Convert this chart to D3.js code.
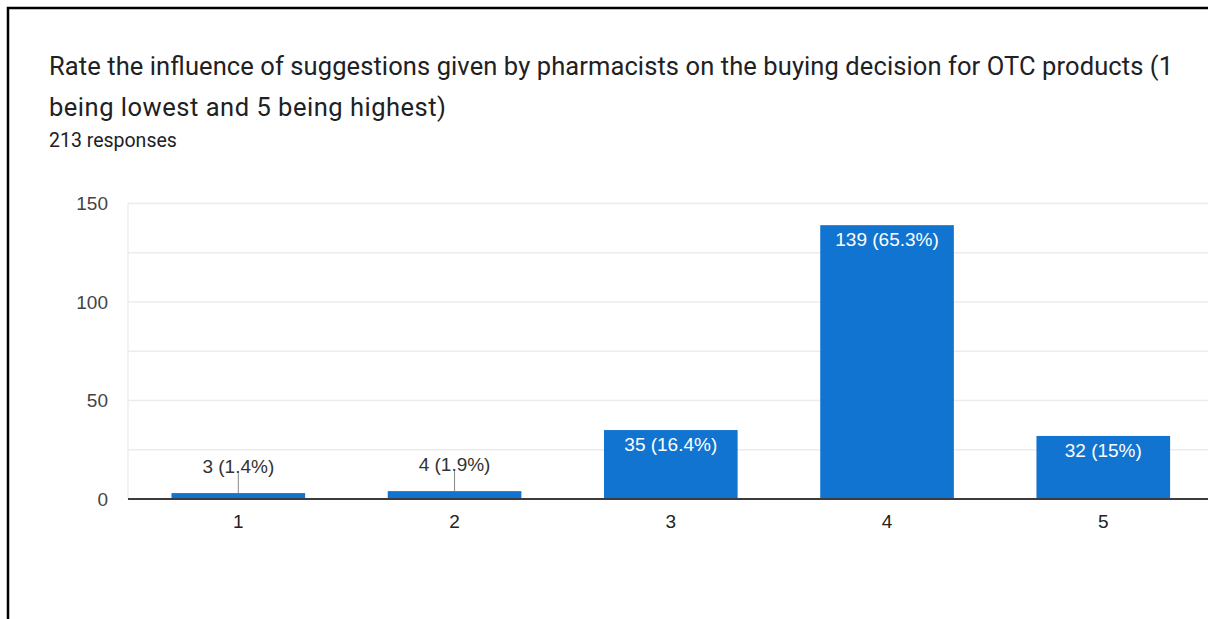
<!DOCTYPE html>
<html>
<head>
<meta charset="utf-8">
<script src="https://cdn.jsdelivr.net/npm/d3@7"></script>
<style>
  html, body { margin: 0; padding: 0; background: #fff; }
  svg { display: block; }
</style>
</head>
<body>
<svg id="chart" width="1208" height="619"></svg>
<script>
// Survey question and answers
const titleLines = [
  "Rate the influence of suggestions given by pharmacists on the buying decision for OTC products (1",
  "being lowest and 5 being highest)"
];
const titleWidths = [1124, 397];
const responseCount = 213;
const ratings = ["1", "2", "3", "4", "5"];
const counts = [3, 4, 35, 139, 32];
const yTicks = [0, 50, 100, 150];
const yGrid = [0, 25, 50, 75, 100, 125, 150];

const W = 1208, H = 619;
const svg = d3.select("#chart");

// Frame lines along the top and left edges
svg.append("path")
  .attr("d", `M8,${H} V8 H${W}`)
  .attr("fill", "none")
  .attr("stroke", "#000")
  .attr("stroke-width", 2.5);

// Heading
const head = svg.append("g").attr("font-family", "Roboto, 'Noto Sans', sans-serif");
head.selectAll("text.title")
  .data(titleLines)
  .join("text")
  .attr("class", "title")
  .attr("x", 49)
  .attr("y", (d, i) => 74.5 + i * 41.5)
  .attr("font-size", 25.5)
  .attr("fill", "#202124")
  .attr("textLength", (d, i) => titleWidths[i])
  .attr("lengthAdjust", "spacing")
  .text(d => d);
head.append("text")
  .attr("x", 49)
  .attr("y", 146.5)
  .attr("font-size", 19.5)
  .attr("fill", "#202124")
  .text(`${responseCount} responses`);

// Scales
const x = d3.scaleBand()
  .domain(ratings)
  .range([130.2, 1211.4])
  .paddingInner(0.382)
  .paddingOuter(0.191);
const y = d3.scaleLinear().domain([0, 150]).range([499, 203.5]);

const plot = svg.append("g").attr("font-family", "'Liberation Sans', Arial, sans-serif");

// Gridlines
plot.append("g")
  .selectAll("line")
  .data(yGrid)
  .join("line")
  .attr("x1", 128).attr("x2", W)
  .attr("y1", d => y(d)).attr("y2", d => y(d))
  .attr("stroke", "#ececec")
  .attr("stroke-width", 1.3);

// Left edge of the plot area
plot.append("line")
  .attr("x1", 128).attr("x2", 128)
  .attr("y1", y(150)).attr("y2", y(0))
  .attr("stroke", "#ececec")
  .attr("stroke-width", 1.3);

// Y axis labels
const yAxis = d3.axisLeft(y).tickValues(yTicks).tickSize(0).tickPadding(20);
plot.append("g")
  .attr("transform", "translate(128,0)")
  .call(yAxis)
  .call(g => g.select(".domain").remove())
  .call(g => g.selectAll("text")
    .attr("font-family", "'Liberation Sans', Arial, sans-serif")
    .attr("font-size", 19)
    .attr("fill", "#444"));

// Bars
const data = ratings.map((r, i) => ({ r, v: counts[i] }));
plot.append("g")
  .selectAll("rect")
  .data(data)
  .join("rect")
  .attr("x", d => x(d.r))
  .attr("y", d => y(d.v))
  .attr("width", x.bandwidth())
  .attr("height", d => y(0) - y(d.v))
  .attr("fill", "#1174d0");

// Baseline
plot.append("line")
  .attr("x1", 128).attr("x2", W)
  .attr("y1", y(0)).attr("y2", y(0))
  .attr("stroke", "#3c3c3c")
  .attr("stroke-width", 2);

// X axis labels
const xAxis = d3.axisBottom(x).tickSize(0).tickPadding(16);
plot.append("g")
  .attr("transform", `translate(0,${y(0)})`)
  .call(xAxis)
  .call(g => g.select(".domain").remove())
  .call(g => g.selectAll("text")
    .attr("font-family", "'Liberation Sans', Arial, sans-serif")
    .attr("font-size", 19)
    .attr("fill", "#222"));

// Value labels: inside tall bars, above short ones with a leader line
const pct = d3.format(".1~f");
const total = d3.sum(counts);
const labelText = d => `${d.v} (${pct(d.v / total * 100)}%)`;
const inside = d => (y(0) - y(d.v)) > 30;

const labels = plot.append("g").attr("font-size", 19).attr("text-anchor", "middle");
labels.selectAll("line")
  .data(data.filter(d => !inside(d)))
  .join("line")
  .attr("x1", d => x(d.r) + x.bandwidth() / 2)
  .attr("x2", d => x(d.r) + x.bandwidth() / 2)
  .attr("y1", d => y(d.v))
  .attr("y2", d => y(d.v) - 20)
  .attr("stroke", "#888")
  .attr("stroke-width", 1);
labels.selectAll("text")
  .data(data)
  .join("text")
  .attr("x", d => x(d.r) + x.bandwidth() / 2)
  .attr("y", d => inside(d) ? y(d.v) + 21 : y(d.v) - 20.5)
  .attr("fill", d => inside(d) ? "#fff" : "#333")
  .text(labelText);
</script>
</body>
</html>
